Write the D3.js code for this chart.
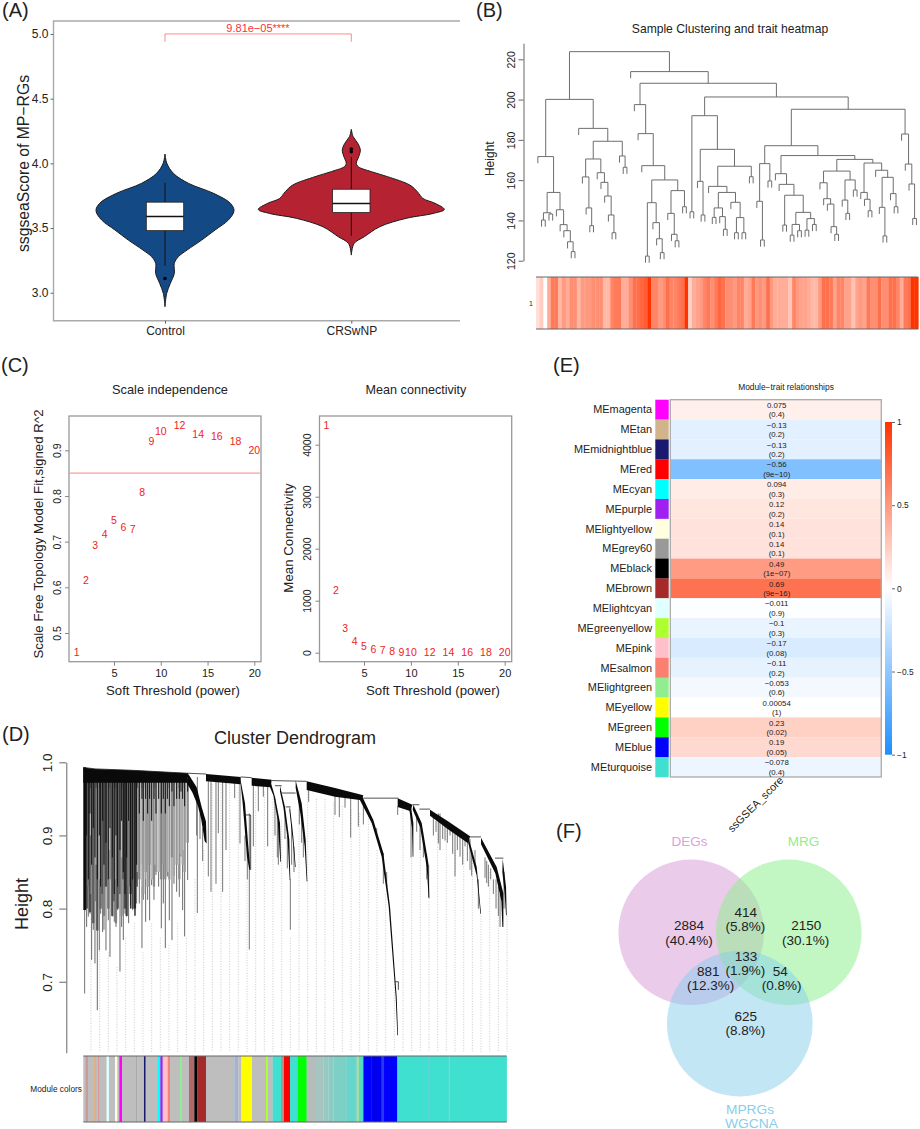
<!DOCTYPE html>
<meta charset="utf-8">
<style>
    html, body { margin: 0; padding: 0; background: #fff; }
    svg { display: block; font-family: "Liberation Sans", Arial, sans-serif; }
    text { fill: #222; }
</style>
<svg id="fig" width="920" height="1129"></svg>
<script src="https://d3js.org/d3.v7.js"></script>
<script>
// ---------- (A) violin ----------
const groups = ["Control", "CRSwNP"];
const controlViolinValue = [4.072,4.0,3.923,3.845,3.768,3.691,3.634,3.562,3.485,3.407,3.33,3.278,3.227,3.149,3.072,2.995,2.892];
const controlViolinDensity = [0,.02,.09,.254,.523,.703,.742,.681,.538,.394,.237,.143,.1,.1,.057,.018,0];
const crswnpViolinValue = [4.263,4.206,4.155,4.103,4.052,4.0,3.974,3.936,3.897,3.832,3.781,3.729,3.691,3.644,3.613,3.575,3.51,3.433,3.381,3.291];
const crswnpViolinDensity = [0,.02,.07,.097,.08,.054,.075,.215,.39,.63,.71,.77,.9,1,.88,.59,.305,.14,.03,0];
// q1, median, q3, whisker low, whisker high
const boxStats = [[3.48,3.59,3.70,3.21,3.85],[3.62,3.69,3.80,3.44,4.05]];
const boxOutliers = [[3.11],[4.09,4.11]];
const pLabel = "9.81e\u221205****";

// ---------- (B) sample tree: [height, left, right], 0 is a leaf ----------
const treeLeftA = [171.7,0,[153.9,[143.8,[140.2,0,0],[143.2,0,0]],[145.3,0,[137.9,0,[134.9,0,[129.4,0,[124.5,0,0]]]]]]];
const treeLeftB = [185.7,0,[179.3,[170.5,[161.6,0,[146.2,0,[137.4,0,0]]],[163.7,0,[158.9,0,[152.1,0,[142.7,0,[133.9,0,0]]]]]],[172,0,[166.4,0,0]]]];
const treeMidA = [197.5,0,[183.1,0,[167.2,0,[160.1,[148.8,[122.3,0,0],[138.9,0,[130.9,0,[124,0,0]]]],[154.8,[143.5,0,[133.1,0,[129.9,0,0]]],[146.8,0,0]]]]]];
const treeMidB = [192,[144.3,0,0],[175.3,[159.4,0,[142.7,0,0]],[166.9,[156.9,0,[153.9,[146.2,[141.5,0,0],[141.9,0,[135.6,0,0]]],[149,0,[141.4,[133.9,0,0],[133.9,0,0]]]]],[161.7,0,0]]]];
const treeRightA = [177.1,[168.2,[149.5,0,[130.3,0,0]],[159.6,0,0]],[172.2,[163.2,0,[157.9,0,[152.5,[137.7,0,0],[144,[138,[132.7,0,0],[134.9,0,0]],[140.9,[135.2,0,0],[138,0,0]]]]]],[170.3,[164.5,[158.7,0,[150.8,0,[148.1,0,[136.9,0,[133.1,0,0]]]]],[160.1,[150.1,0,[143.5,0,0]],[155.1,0,0]]],[168.5,[153.9,0,[150.5,0,[144.8,0,0]]],[164.9,0,[161.4,[146.5,0,[132.3,0,0]],[153.3,0,[146.8,0,0]]]]]]]];
const treeRightB = [182.9,0,[168,0,[158.1,0,[141,0,0]]]];
const sampleTree = [223.8,[200.1,treeLeftA,treeLeftB],[213.9,0,[208.1,treeMidA,[201.3,treeMidB,[195.2,treeRightA,treeRightB]]]]];
const sampleTrait = [.15,.25,0,.4,.65,.65,.35,.5,.4,.55,.55,.35,.5,.5,.5,.55,.55,.55,.35,.35,.6,.65,.65,.4,.4,.55,.7,.7,.75,.8,1,.6,.6,.5,.55,.7,.6,.6,.65,.7,1,.22,.4,.45,.5,.6,.65,.55,.65,.75,.7,.55,.55,.5,.6,.6,.4,.45,.65,.5,.55,.5,.7,.5,.4,.4,.4,.4,.28,.6,.5,.45,.45,.4,.35,.35,.5,.7,.7,.65,.45,.6,.6,.45,.45,.3,.45,.5,.45,.65,.55,.55,.7,.55,.55,.7,.7,.6,.4,.65,.7,1,1];

// ---------- (C) soft threshold ----------
const powers = [1,2,3,4,5,6,7,8,9,10,12,14,16,18,20];
const scaleFitR2 = [.457,.616,.691,.717,.747,.731,.728,.809,.92,.942,.955,.935,.931,.92,.90];
const meanConnectivity = [4372,1199,468,218,115,70,45,26,13,6,3,3,3,3,3];

// ---------- (D) gene dendrogram, positions are gene rank 0..1270 ----------
const moduleBarColors = ["#bebebe","#cc9999","#bebebe","#e0b080","#bebebe","#dd9999","#bebebe","#e0ffff","#bebebe","#ffffe0","#bebebe","#ff00ff","#bebebe","#a8a8a8","#bebebe","#191970","#bebebe","#00ffff","#a020f0","#bebebe","#ffc0cb","#fa8072","#bebebe","#90ee90","#bebebe","#b06868","#000000","#a52a2a","#bebebe","#a4b4d0","#bebebe","#ffff00","#bebebe","#adff2f","#bebebe","#40e0d0","#a89888","#ff0000","#40e0d0","#00ff00","#b4bcbc","#a6c4c0","#98c8c2","#8ccac4","#7cd0c6","#66d6cc","#a8dca0","#50dcc8","#0000ff","#0000ee","#2438f0","#0000ff","#40e0d0","#3ec8d2","#40e0d0","#4ad0c0","#40e0d0"];
const moduleBarSizes = [6,8,18,6,6,5,21,7,18,7,6,8,42,4,20,5,37,7,7,3,12,7,30,6,21,16,9,26,85,12,9,32,42,6,14,25,9,18,22,28,25,25,15,15,40,30,7,13,25,30,7,40,93,2,59,2,172];
const combPos = [10,15,20,25,30,35,42,48,52,58,62,68,75,80,87,93,98,103,110,115,120,125,130,136,142,148,155,160,168,176,180,187,193,199,205,212,218,226,234,240,246,252,258,266,272,280,288,293,298,304,313];
const combBottom = [.775,.789,.793,.730,.771,.725,.661,.743,.793,.768,.771,.743,.784,.734,.789,.782,.775,.798,.714,.775,.757,.793,.789,.780,.805,.798,.791,.807,.807,.746,.812,.782,.812,.784,.832,.812,.846,.830,.773,.807,.746,.844,.784,.757,.834,.823,.816,.871,.798,.762,.839];
const combMass = [.80,.83,.795,.82,.78,.81,.77,.83,.80,.82,.79,.83,.80,.84,.79,.81,.78,.80,.82,.79,.84,.80,.79,.83,.82,.80,.80,.83,.84,.86,.82,.85,.83,.86,.84,.83,.85,.85,.84,.86,.84,.85,.84,.87,.845,.86,.84,.875,.86,.85,.89];
const combTone = [.25,.45,.3,.55,.35,.5,.3,.6,.4,.3,.5,.3,.45,.55,.3,.35,.5,.3,.4,.55,.35,.3,.25,.5,.2,.3,.25,.3,.5,.55,.6,.5,.6,.55,.65,.55,.6,.65,.5,.6,.55,.65,.6,.55,.65,.6,.55,.7,.65,.6,.55];
const combDark = [.90,.84,.93,.86,.91,.87,.84,.90,.83,.92,.86,.89,.84,.91,.87,.82,.90,.83,.88,.92,.85,.82,.87,.92,.80,.84,.79,.86,.93,.95,.92,.95,.93,.95,.92,.95,.93,.95,.93,.95,.93,.95,.94,.96,.94,.95,.95,.96,.95,.94,.96];
const combGapPos = [22,38,50,78,95,115,162,175,185,205,215,225,255,285,300];
const combGapBottom = [.90,.86,.84,.88,.84,.87,.85,.83,.84,.84,.86,.85,.85,.86,.88];
const guideTops = [.80,.76,.74,.72,.76,.78,.74,.78,.76,.75,.78,.76,.84,.88,.97,.97,.97,.97,.84,.96,.96,.95,.92,.76,.96,.96,.95,.95,.945,.94,.935,.93,.93,.88,.82,.70,.945,.93,.92,.81,.92,.91,.88,.88,.88,.79,.85,.82,.79];
// [pos, top height, bottom height]
const sideDrops = [[4,.80,.684],[342,.98,.794],[340,.955,.90],[350,.93,.895],[358,.91,.865],[383,.974,.823],[375,.974,.844],[398,.974,.834],[405,.974,.903],[418,.974,.823],[428,.974,.880],[454,.974,.951],[470,.974,.889],[485,.90,.865],[492,.88,.84],[498,.93,.744],[510,.968,.885],[525,.968,.933],[553,.968,.885],[540,.968,.953],[575,.95,.90],[585,.92,.86],[582,.93,.87],[605,.93,.895],[612,.90,.855],[621,.84,.771],[625,.915,.86],[632,.885,.85],[648,.945,.915],[655,.93,.89],[660,.91,.87],[676,.965,.946],[755,.958,.928],[768,.955,.925],[785,.955,.938],[802,.955,.897],[825,.950,.912],[840,.948,.915],[880,.91,.897],[900,.876,.834],[910,.85,.83],[943,.94,.928],[983,.93,.87],[1000,.93,.905],[1010,.915,.88],[1020,.895,.87],[1030,.875,.84],[1036,.86,.815],[1050,.925,.90],[1058,.92,.905],[1065,.93,.889],[1070,.93,.88],[1078,.915,.895],[1085,.92,.893],[1092,.91,.89],[1100,.915,.9],[1108,.905,.875],[1115,.91,.844],[1122,.90,.88],[1130,.905,.871],[1138,.895,.86],[1145,.90,.885],[1152,.89,.865],[1160,.895,.853],[1165,.875,.845],[1175,.88,.86],[1185,.84,.80],[1205,.87,.842],[1210,.865,.835],[1215,.86,.83],[1222,.855,.84],[1230,.84,.82],[1238,.84,.80],[1245,.83,.79],[1250,.82,.775],[1262,.85,.80]];
// top-level joins, each is a run of [pos, height]
const treeJoins = [[[0,.993],[35,.991],[150,.989],[315,.985],[368,.984]],[[472,.980],[505,.979]],[[565,.975],[670,.974]],[[575,.968],[595,.968]],[[595,.958],[637,.958]],[[607,.939],[622,.939]],[[840,.951],[945,.951]],[[487,.928],[502,.928],[502,.853]],[[935,.700],[945,.700],[945,.689]],[[987,.942],[1008,.942]],[[1008,.936],[1040,.936]],[[1160,.898],[1193,.898]],[[1235,.869],[1260,.869]]];
const bandMain = [[0,.993],[35,.991],[150,.989],[315,.985],[312,.972],[0,.972]];
const bandLeftColumn = [[0,.993],[8,.993],[8,.798],[0,.798]];
const bandTwo = [[315,.984],[340,.966],[355,.939],[368,.919],[370,.889],[364,.892],[354,.921],[344,.94],[328,.958],[310,.972]];
const bandThree = [[368,.984],[472,.980],[472,.970],[368,.974]];
const bandThreeTail = [[470,.980],[485,.944],[495,.885],[501,.853],[498,.853],[491,.871],[478,.944],[472,.970]];
const bandFour = [[505,.979],[565,.976],[562,.966],[505,.968]];
const bandFourTail = [[560,.976],[575,.953],[590,.917],[593,.864],[591,.864],[583,.921],[570,.955],[560,.966]];
const bandFive = [[590,.968],[605,.939],[618,.894],[621,.839],[619,.839],[613,.894],[600,.939],[590,.960]];
const bandSix = [[620,.939],[630,.898],[637,.857],[635,.857],[628,.894],[618,.935]];
const bandSeven = [[637,.975],[655,.944],[667,.894],[672,.837],[670,.837],[664,.885],[651,.930],[637,.965]];
const bandEight = [[670,.974],[755,.965],[840,.955],[835,.948],[755,.953],[670,.962]];
const bandEightTail = [[835,.955],[870,.921],[900,.876],[920,.803],[940,.679],[944,.627],[942,.627],[937,.679],[916,.803],[895,.871],[865,.917],[830,.948]];
const bandNine = [[943,.951],[987,.942],[982,.933],[943,.939]];
const bandNineTail = [[982,.942],[990,.917],[990,.871],[988,.871],[986,.91],[978,.935]];
const bandTen = [[990,.942],[1015,.917],[1035,.862],[1038,.814],[1036,.814],[1030,.857],[1010,.912],[988,.935]];
const bandEleven = [[1040,.935],[1095,.919],[1160,.899],[1155,.889],[1095,.908],[1040,.927]];
const bandElevenTail = [[1155,.898],[1180,.857],[1193,.793],[1191,.793],[1180,.845],[1155,.889]];
const bandTwelve = [[1193,.897],[1240,.857],[1260,.821],[1260,.775],[1257,.775],[1254,.81],[1236,.848],[1193,.888]];
const bandThirteen = [[1258,.868],[1268,.830],[1270,.791],[1268,.791],[1264,.82],[1257,.85]];
const allBands = [bandMain,bandLeftColumn,bandTwo,bandThree,bandThreeTail,bandFour,bandFourTail,bandFive,bandSix,bandSeven,bandEight,bandEightTail,bandNine,bandNineTail,bandTen,bandEleven,bandElevenTail,bandTwelve,bandThirteen];

// ---------- (E) module-trait ----------
const modules = ["MEmagenta","MEtan","MEmidnightblue","MEred","MEcyan","MEpurple","MElightyellow","MEgrey60","MEblack","MEbrown","MElightcyan","MEgreenyellow","MEpink","MEsalmon","MElightgreen","MEyellow","MEgreen","MEblue","MEturquoise"];
const moduleColors = ["#ff00ff","#d2b48c","#191970","#ff0000","#00ffff","#a020f0","#ffffe0","#999999","#000000","#a52a2a","#e0ffff","#adff2f","#ffc0cb","#fa8072","#90ee90","#ffff00","#00ff00","#0000ff","#40e0d0"];
const moduleCor = [.075,-.13,-.13,-.56,.094,.12,.14,.14,.49,.69,-.011,-.1,-.17,-.11,-.053,.00054,.23,.19,-.078];
const moduleCorText = ["0.075","\u22120.13","\u22120.13","\u22120.56","0.094","0.12","0.14","0.14","0.49","0.69","\u22120.011","\u22120.1","\u22120.17","\u22120.11","\u22120.053","0.00054","0.23","0.19","\u22120.078"];
const modulePText = ["(0.4)","(0.2)","(0.2)","(9e\u221210)","(0.3)","(0.2)","(0.1)","(0.1)","(1e\u221207)","(9e\u221216)","(0.9)","(0.3)","(0.08)","(0.2)","(0.6)","(1)","(0.02)","(0.05)","(0.4)"];
const legendTicks = [1,.5,0,-.5,-1];

// ---------- (F) venn ----------
const vennSets = ["DEGs","MRG"];
const vennCounts = ["2884","414","2150","133","881","54","625"];
const vennPercents = ["(40.4%)","(5.8%)","(30.1%)","(1.9%)","(12.3%)","(0.8%)","(8.8%)"];

const svg = d3.select("#fig");

function panelLetter(s, x, y) {
    svg.append("text").attr("x", x).attr("y", y).attr("font-size", 20).text(s);
}
function label(s, x, y, size, rot) {
    let t = svg.append("text").attr("font-size", size).attr("text-anchor", "middle").text(s);
    if (rot) t.attr("transform", `translate(${x},${y}) rotate(${rot})`);
    else t.attr("x", x).attr("y", y);
    return t;
}
function styleAxis(g, color) {
    g.selectAll("line,path").attr("stroke", color).attr("stroke-width", 1);
    g.selectAll("text").attr("fill", "#222");
}
// R draws the y tick labels turned on their side
function turnTicks(g, dist) {
    g.selectAll("text").attr("transform", "rotate(-90)").attr("x", 0).attr("y", -dist).attr("dy", 0).attr("text-anchor", "middle");
}
function box(x0, y0, x1, y1, color) {
    svg.append("rect").attr("x", x0).attr("y", y0).attr("width", x1 - x0).attr("height", y1 - y0)
        .attr("fill", "none").attr("stroke", color).attr("stroke-width", 1.3);
}

// --- panel A
panelLetter("(A)", 2, 17);
const xA = d3.scalePoint().domain(groups).range([165, 351.3]);
const yA = d3.scaleLinear().domain([2.784, 5.1]).range([320.7, 21]);
const wA = d3.scaleLinear().domain([0, 1]).range([0, 93]);

svg.append("path").attr("fill", "none").attr("stroke", "#aaa").attr("stroke-width", 1.4)
    .attr("d", "M460,21H53.5V320.7H460");
let axA = svg.append("g").attr("transform", "translate(53.5,0)")
    .call(d3.axisLeft(yA).tickValues([3, 3.5, 4, 4.5, 5]).tickFormat(d3.format(".1f")).tickSize(3).tickPadding(2));
axA.select(".domain").remove();
axA.attr("font-size", 12).attr("font-family", null);
styleAxis(axA, "#666");
let axAx = svg.append("g").attr("transform", "translate(0,320.7)")
    .call(d3.axisBottom(xA).tickSize(3).tickPadding(3));
axAx.select(".domain").remove();
axAx.attr("font-size", 12).attr("font-family", null);
styleAxis(axAx, "#666");
label("ssgseaScore of MP\u2212RGs", 23, 163.5, 16, -90).attr("dy", "0.35em")
    .attr("textLength", 177).attr("lengthAdjust", "spacingAndGlyphs");

const violinData = [
    d3.zip(controlViolinValue, controlViolinDensity),
    d3.zip(crswnpViolinValue, crswnpViolinDensity)
];
const violinFill = ["#134a86", "#b52231"];
groups.forEach((g, i) => {
    let cx = xA(g);
    let area = d3.area().y(d => yA(d[0])).x0(d => cx - wA(d[1])).x1(d => cx + wA(d[1])).curve(d3.curveCatmullRom.alpha(0.5));
    svg.append("path").datum(violinData[i]).attr("d", area).attr("fill", violinFill[i]).attr("stroke", "#1a1a1a").attr("stroke-width", 1);
    let s = boxStats[i];
    svg.append("line").attr("x1", cx).attr("x2", cx).attr("y1", yA(s[3])).attr("y2", yA(s[4])).attr("stroke", "#111").attr("stroke-width", 1);
    svg.append("rect").attr("x", cx - 18.7).attr("width", 37.4).attr("y", yA(s[2])).attr("height", yA(s[0]) - yA(s[2]))
        .attr("fill", "#fff").attr("stroke", "#222").attr("stroke-width", 0.8);
    svg.append("line").attr("x1", cx - 18.7).attr("x2", cx + 18.7).attr("y1", yA(s[1])).attr("y2", yA(s[1])).attr("stroke", "#111").attr("stroke-width", 1.5);
    svg.selectAll(null).data(boxOutliers[i]).enter().append("circle")
        .attr("cx", cx).attr("cy", d => yA(d)).attr("r", 1.8).attr("fill", "#000");
});
svg.append("path").attr("fill", "none").attr("stroke", "#ff8a8a").attr("stroke-width", 1)
    .attr("d", `M${xA(groups[0])},${yA(4.94)}V${yA(5)}H${xA(groups[1])}V${yA(4.94)}`);
label(pLabel, 258, 31.5, 11).style("fill", "#f8333c");

// --- panel B
panelLetter("(B)", 476, 17);
label("Sample Clustering and trait heatmap", 730, 33, 12.1);
const xB = d3.scaleBand().domain(d3.range(sampleTrait.length)).range([536, 918.3]);
const yB = d3.scaleLinear().domain([120, 228]).range([260.7, 43.2]);
const traitColor = d3.scaleLinear().domain([0, 1]).range(["#ffffff", "#ff3300"]);
const leafHang = 3.3;

let treeSegs = [];
let nextLeaf = 0;
function walk(node, parentH) {
    if (node === 0) {
        let x = xB(nextLeaf) + xB.bandwidth() / 2;
        nextLeaf += 1;
        treeSegs.push([x, parentH, x, parentH - leafHang]);
        return x;
    }
    let a = walk(node[1], node[0]);
    let b = walk(node[2], node[0]);
    treeSegs.push([a, node[0], b, node[0]]);
    let mid = (a + b) / 2;
    if (parentH) treeSegs.push([mid, parentH, mid, node[0]]);
    return mid;
}
walk(sampleTree, null);
svg.append("g").selectAll("line").data(treeSegs).enter().append("line")
    .attr("x1", d => d[0]).attr("x2", d => d[2]).attr("y1", d => yB(d[1])).attr("y2", d => yB(d[3]))
    .attr("stroke", "#6e6e6e").attr("stroke-width", 1);
let axB = svg.append("g").attr("transform", "translate(523.5,0)")
    .call(d3.axisLeft(yB).tickValues([120, 140, 160, 180, 200, 220]).tickSize(5).tickSizeOuter(0));
axB.attr("font-size", 10.5).attr("font-family", null);
styleAxis(axB, "#666");
turnTicks(axB, 9);
label("Height", 494, 158.7, 12, -90);

svg.append("g").selectAll("rect").data(sampleTrait).enter().append("rect")
    .attr("x", (d, i) => xB(i)).attr("width", xB.bandwidth() + 0.3).attr("y", 277).attr("height", 52)
    .attr("fill", d => traitColor(d));
svg.selectAll(null).data([277, 329]).enter().append("line")
    .attr("x1", 536).attr("x2", 918.3).attr("y1", d => d).attr("y2", d => d).attr("stroke", "#666").attr("stroke-width", 1);
label("1", 531, 306, 7);

// --- panel C
panelLetter("(C)", 1, 372);
const xC1 = d3.scaleLinear().domain([5, 20]).range([114, 254.3]);
const yC1 = d3.scaleLinear().domain([.5, .9]).range([633, 450.3]);
const xC2 = d3.scaleLinear().domain([5, 20]).range([364, 504.7]);
const yC2 = d3.scaleLinear().domain([0, 4000]).range([652.7, 444.7]);
const boxTop = 416, boxBottom = 661.7;

box(69, boxTop, 261, boxBottom, "#999");
box(319.5, boxTop, 511.7, boxBottom, "#999");
[[xC1, yC1, [.5, .6, .7, .8, .9], 69, 56, d3.format(".1f"), 60.5], [xC2, yC2, [0, 1000, 2000, 3000, 4000], 319.5, 306, d3.format("d"), 310.5]].forEach(c => {
    let ax = svg.append("g").attr("transform", `translate(0,${boxBottom})`)
        .call(d3.axisBottom(c[0]).tickValues([5, 10, 15, 20]).tickSize(4).tickPadding(4));
    ax.select(".domain").remove();
    ax.attr("font-size", 11).attr("font-family", null);
    styleAxis(ax, "#888");
    let ay = svg.append("g").attr("transform", `translate(${c[3]},0)`)
        .call(d3.axisLeft(c[1]).tickValues(c[2]).tickFormat(c[5]).tickSize(4));
    ay.select(".domain").remove();
    ay.attr("font-size", 10.5).attr("font-family", null);
    styleAxis(ay, "#888");
    turnTicks(ay, c[3] - c[6]);
});
svg.append("line").attr("x1", 69).attr("x2", 261).attr("y1", yC1(.85)).attr("y2", yC1(.85)).attr("stroke", "#ff9a9a").attr("stroke-width", 1.2);
svg.append("g").selectAll("text").data(powers).enter().append("text")
    .attr("x", d => xC1(d)).attr("y", (d, i) => yC1(scaleFitR2[i])).attr("dy", "0.35em").attr("text-anchor", "middle")
    .attr("font-size", 10.5).style("fill", "#ee1c25").text(d => d);
svg.append("g").selectAll("text").data(powers).enter().append("text")
    .attr("x", d => xC2(d)).attr("y", (d, i) => yC2(meanConnectivity[i])).attr("dy", "0.35em").attr("text-anchor", "middle")
    .attr("font-size", 10.5).style("fill", "#ee1c25").text(d => d);
label("Scale independence", 170, 394, 12.8);
label("Mean connectivity", 416, 394, 12.6);
label("Soft Threshold (power)", 173, 695, 13.2);
label("Soft Threshold (power)", 433, 695, 13.2);
label("Scale Free Topology Model Fit,signed R^2", 38, 534, 13.3, -90).attr("dy", "0.35em");
label("Mean Connectivity", 288, 538, 13.3, -90).attr("dy", "0.35em");

// --- panel D
panelLetter("(D)", 2, 741);
label("Cluster Dendrogram", 295, 744, 18);
const xD = d3.scaleLinear().domain([0, d3.sum(moduleBarSizes)]).range([83.3, 506.7]);
const yD = d3.scaleLinear().domain([.603, 1]).range([1052.7, 762.3]);

svg.append("g").selectAll("line").data(guideTops).enter().append("line")
    .attr("x1", (d, i) => xD(23 + 26 * i)).attr("x2", (d, i) => xD(23 + 26 * i))
    .attr("y1", d => yD(d)).attr("y2", yD(.604))
    .attr("stroke", "#c4c4c4").attr("stroke-width", 0.9).attr("stroke-dasharray", "1,1.6");

const linePts = d3.line().x(d => xD(d[0])).y(d => yD(d[1]));
const toneColor = d3.interpolateRgb("#000000", "#ffffff");
svg.append("g").selectAll("line").data(combPos).enter().append("line")
    .attr("x1", d => xD(d)).attr("x2", d => xD(d))
    .attr("y1", yD(.976)).attr("y2", (d, i) => yD(combBottom[i]))
    .attr("stroke", "#6a6a6a").attr("stroke-width", 1);
svg.append("g").selectAll("line").data(combPos).enter().append("line")
    .attr("x1", d => xD(d)).attr("x2", d => xD(d))
    .attr("y1", yD(.976)).attr("y2", (d, i) => yD(combMass[i]))
    .attr("stroke", (d, i) => toneColor(combTone[i])).attr("stroke-width", 2.3);
svg.append("g").selectAll("line").data(combGapPos).enter().append("line")
    .attr("x1", d => xD(d)).attr("x2", d => xD(d))
    .attr("y1", yD(.965)).attr("y2", (d, i) => yD(combGapBottom[i]))
    .attr("stroke", "#c8c8c8").attr("stroke-width", 0.9);
svg.append("g").selectAll("line").data(combPos).enter().append("line")
    .attr("x1", d => xD(d)).attr("x2", d => xD(d))
    .attr("y1", yD(.976)).attr("y2", (d, i) => yD(combDark[i]))
    .attr("stroke", "#111").attr("stroke-width", 1);
svg.append("g").selectAll("line").data(sideDrops).enter().append("line")
    .attr("x1", d => xD(d[0])).attr("x2", d => xD(d[0])).attr("y1", d => yD(d[1])).attr("y2", d => yD(d[2]))
    .attr("stroke", "#666").attr("stroke-width", 0.9);
svg.append("g").selectAll("path").data(allBands).enter().append("path")
    .attr("d", d => linePts(d) + "Z").attr("fill", "#0a0a0a");
svg.append("g").selectAll("path").data(treeJoins).enter().append("path")
    .attr("d", linePts).attr("fill", "none").attr("stroke", "#222").attr("stroke-width", 0.8);

let axD = svg.append("g").attr("transform", "translate(66.3,0)")
    .call(d3.axisLeft(yD).tickValues([.7, .8, .9, 1]).tickFormat(d3.format(".1f")).tickSize(7).tickSizeOuter(0));
axD.attr("font-size", 13.5).attr("font-family", null);
styleAxis(axD, "#666");
turnTicks(axD, 14);
label("Height", 28, 904, 18, -90);

const barStarts = d3.cumsum(moduleBarSizes).map((d, i) => d - moduleBarSizes[i]);
svg.append("g").selectAll("rect").data(moduleBarColors).enter().append("rect")
    .attr("x", (d, i) => xD(barStarts[i])).attr("width", (d, i) => xD(moduleBarSizes[i]) - xD(0) + 0.2)
    .attr("y", 1056).attr("height", 66).attr("fill", d => d);
svg.selectAll(null).data([1056, 1122]).enter().append("line")
    .attr("x1", 83.3).attr("x2", 506.7).attr("y1", d => d).attr("y2", d => d).attr("stroke", "#666").attr("stroke-width", 1);
svg.append("text").attr("x", 82).attr("y", 1092).attr("text-anchor", "end").attr("font-size", 8.3).text("Module colors");

// --- panel E
panelLetter("(E)", 553, 372);
const yE = d3.scaleBand().domain(modules).range([399.7, 777]);
const corColor = d3.scaleLinear().domain([-1, 0, 1]).range(["#1e8fff", "#ffffff", "#ff3300"]);
const xECell = [670.3, 881.3];
label("Module\u2212trait relationships", 786, 389.7, 8.4);

svg.append("g").selectAll("rect").data(modules).enter().append("rect")
    .attr("x", xECell[0]).attr("width", xECell[1] - xECell[0]).attr("y", d => yE(d)).attr("height", yE.bandwidth())
    .attr("fill", (d, i) => corColor(moduleCor[i]));
svg.append("g").selectAll("rect").data(modules).enter().append("rect")
    .attr("x", 655.3).attr("width", 13.4).attr("y", d => yE(d)).attr("height", yE.bandwidth() + 0.2)
    .attr("fill", (d, i) => moduleColors[i]);
box(xECell[0], 399.7, xECell[1], 777, "#aaa");
svg.append("g").selectAll("text").data(modules).enter().append("text")
    .attr("x", 652).attr("y", d => yE(d) + yE.bandwidth() / 2).attr("dy", "0.35em").attr("text-anchor", "end")
    .attr("font-size", 10.9).text(d => d);
svg.append("g").selectAll("text").data(moduleCorText).enter().append("text")
    .attr("x", 776.7).attr("y", (d, i) => yE(modules[i]) + 5.4).attr("dy", "0.35em").attr("text-anchor", "middle")
    .attr("font-size", 7.8).text(d => d);
svg.append("g").selectAll("text").data(modulePText).enter().append("text")
    .attr("x", 776.7).attr("y", (d, i) => yE(modules[i]) + 15).attr("dy", "0.35em").attr("text-anchor", "middle")
    .attr("font-size", 7.8).text(d => d);

const yLegend = d3.scaleLinear().domain([-1, 1]).range([754.7, 422]);
let grad = svg.append("defs").append("linearGradient").attr("id", "corGrad").attr("x1", 0).attr("x2", 0).attr("y1", 1).attr("y2", 0);
grad.selectAll("stop").data([-1, 0, 1]).enter().append("stop")
    .attr("offset", d => (d + 1) / 2).attr("stop-color", d => corColor(d));
svg.append("rect").attr("x", 885).attr("width", 7).attr("y", 422).attr("height", 332.7).attr("fill", "url(#corGrad)");
let axE = svg.append("g").attr("transform", "translate(892,0)")
    .call(d3.axisRight(yLegend).tickValues(legendTicks).tickFormat(d => String(d).replace("-", "\u2212")).tickSize(3).tickPadding(2));
axE.select(".domain").remove();
axE.attr("font-size", 8.4).attr("font-family", null);
styleAxis(axE, "#666");
svg.append("text").attr("transform", "translate(784,781) rotate(-45)").attr("text-anchor", "end").attr("font-size", 10.8).text("ssGSEA_score");

// --- panel F
panelLetter("(F)", 556, 838);
const vennCircles = [
    {cx: 691.2, cy: 932.3, fill: "#d8a0d8", op: .55},
    {cx: 788.8, cy: 932.3, fill: "#90ee90", op: .55},
    {cx: 739.8, cy: 1023.7, fill: "#87ceeb", op: .5}
];
svg.append("g").selectAll("circle").data(vennCircles).enter().append("circle")
    .attr("cx", d => d.cx).attr("cy", d => d.cy).attr("r", 72.8).attr("fill", d => d.fill).attr("fill-opacity", d => d.op);
const vennCountAt = [[689,925.7],[745.7,912.7],[806.3,925.7],[746,956],[708.3,971.3],[780.3,971.3],[745.7,1016.7]];
const vennPctAt = [[689,940],[745.3,926.7],[805.7,940],[745.3,970.3],[710.7,985],[781.7,985],[745.3,1030.7]];
svg.append("g").selectAll("text").data(vennCounts).enter().append("text")
    .attr("x", (d, i) => vennCountAt[i][0]).attr("y", (d, i) => vennCountAt[i][1]).attr("dy", "0.35em").attr("text-anchor", "middle")
    .attr("font-size", 13.5).text(d => d);
svg.append("g").selectAll("text").data(vennPercents).enter().append("text")
    .attr("x", (d, i) => vennPctAt[i][0]).attr("y", (d, i) => vennPctAt[i][1]).attr("dy", "0.35em").attr("text-anchor", "middle")
    .attr("font-size", 13.5).text(d => d);
label(vennSets[0], 689.5, 846, 13.5).style("fill", "#dda0dd");
label(vennSets[1], 803.5, 846, 13.5).style("fill", "#90ee90");
// the two set names sit close, width held to the reference
label("MPRGs", 750, 1113.5, 12).attr("textLength", 48).attr("lengthAdjust", "spacingAndGlyphs").style("fill", "#87ceeb");
label("WGCNA", 751.5, 1127.5, 12).attr("textLength", 53).attr("lengthAdjust", "spacingAndGlyphs").style("fill", "#87ceeb");
</script>
